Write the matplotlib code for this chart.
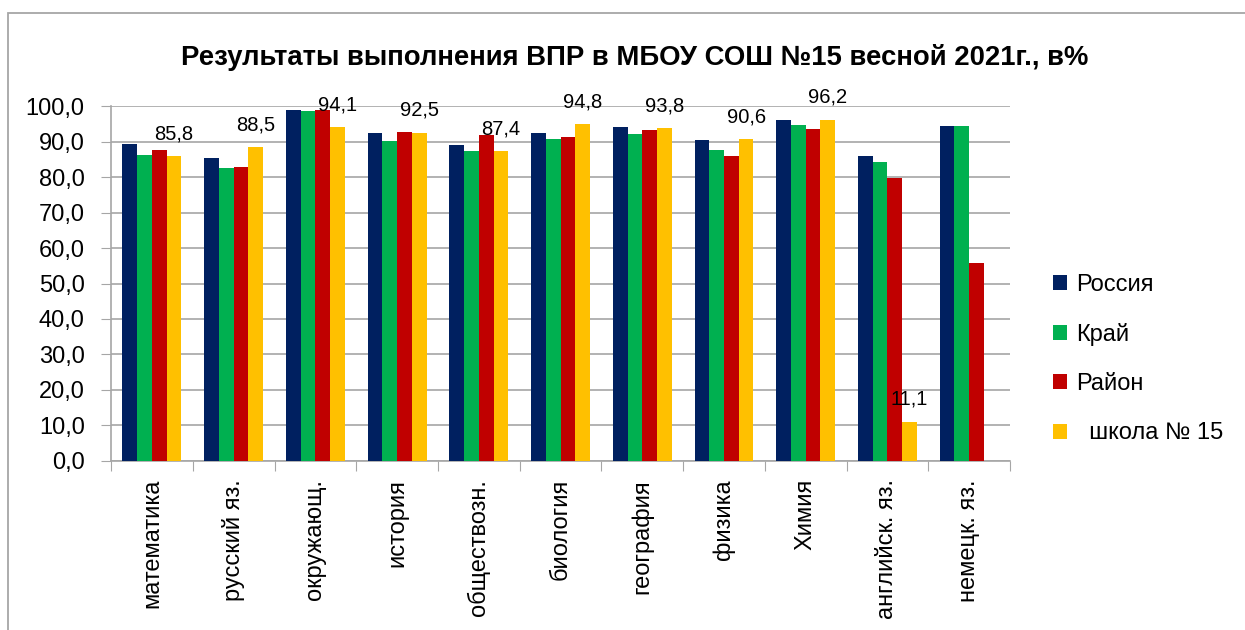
import matplotlib
matplotlib.use("Agg")
import matplotlib.pyplot as plt
import matplotlib.patches as mpatches
import numpy as np

plt.rcParams['font.family'] = ['Liberation Sans', 'DejaVu Sans']

# subjects and results, %
subjects = ['математика', 'русский яз.', 'окружающ.', 'история', 'обществозн.',
            'биология', 'география', 'физика', 'Химия', 'английск. яз.', 'немецк. яз.']
russia = [89.3, 85.4, 98.9, 92.4, 89.0, 92.3, 94.2, 90.3, 96.1, 85.9, 94.4]
krai   = [86.3, 82.5, 98.6, 90.1, 87.2, 90.8, 92.1, 87.5, 94.6, 84.2, 94.5]
raion  = [87.5, 82.7, 98.8, 92.6, 91.9, 91.2, 93.2, 86.0, 93.5, 79.8, 55.7]
school = [85.8, 88.5, 94.1, 92.5, 87.4, 94.8, 93.8, 90.6, 96.2, 11.1, np.nan]

series = [('Россия', russia, '#002060'),
          ('Край', krai, '#00B050'),
          ('Район', raion, '#C00000'),
          ('  школа № 15', school, '#FFC000')]

fig = plt.figure(figsize=(12.45, 6.3), dpi=100)
ax = fig.add_axes([0.0892, 0.2683, 0.7221, 0.5634])

# outer chart border
fig.patches.append(mpatches.Rectangle((8/1245, -0.05), 1.2, 0.979 + 0.05,
                                      transform=fig.transFigure, fill=False,
                                      edgecolor='#a6a6a6', linewidth=1.3))

x = np.arange(len(subjects))
w = 0.18
handles = []
for i, (name, vals, col) in enumerate(series):
    b = ax.bar(x + (i - 1.5) * w, vals, w, color=col, label=name, zorder=3)
    handles.append(b)

# value labels above school bars
for xi, v in zip(x, school):
    if not np.isnan(v):
        ax.annotate(f'{v:.1f}'.replace('.', ','), (xi + 1.5 * w, v),
                    xytext=(0, 12), textcoords='offset points',
                    ha='center', va='baseline', fontsize=14.5)

ax.set_xlim(-0.5, len(subjects) - 0.5)
ax.set_ylim(0, 100)
ax.set_yticks(np.arange(0, 101, 10))
ax.set_yticklabels([f'{v:.1f}'.replace('.', ',') for v in np.arange(0, 101, 10)], fontsize=17)
ax.set_xticks(np.arange(-0.5, len(subjects), 1))
ax.set_xticklabels([])
ax.set_xticks(x, minor=True)
ax.set_xticklabels(subjects, minor=True, rotation=90, fontsize=17)
ax.tick_params(axis='x', which='minor', length=0, pad=13)
ax.tick_params(axis='x', which='major', length=7, color='#a6a6a6')
ax.tick_params(axis='y', length=7, color='#a6a6a6', pad=12)

ax.grid(axis='y', color='#a6a6a6', linewidth=1.2, zorder=0)
for s in ['top', 'right']:
    ax.spines[s].set_visible(False)
for s in ['left', 'bottom']:
    ax.spines[s].set_color('#a6a6a6')
    ax.spines[s].set_linewidth(1.2)

fig.text(0.51, 0.9095, 'Результаты выполнения ВПР в МБОУ СОШ №15 весной 2021г., в%',
         ha='center', va='center', fontsize=19.8, fontweight='bold')

fig.legend(handles=handles, loc='center left', bbox_to_anchor=(0.836, 0.43),
           frameon=False, fontsize=17, handlelength=0.6, handleheight=0.6,
           handletextpad=0.4, labelspacing=1.15, borderpad=0)

fig.savefig('out.png', dpi=100)
